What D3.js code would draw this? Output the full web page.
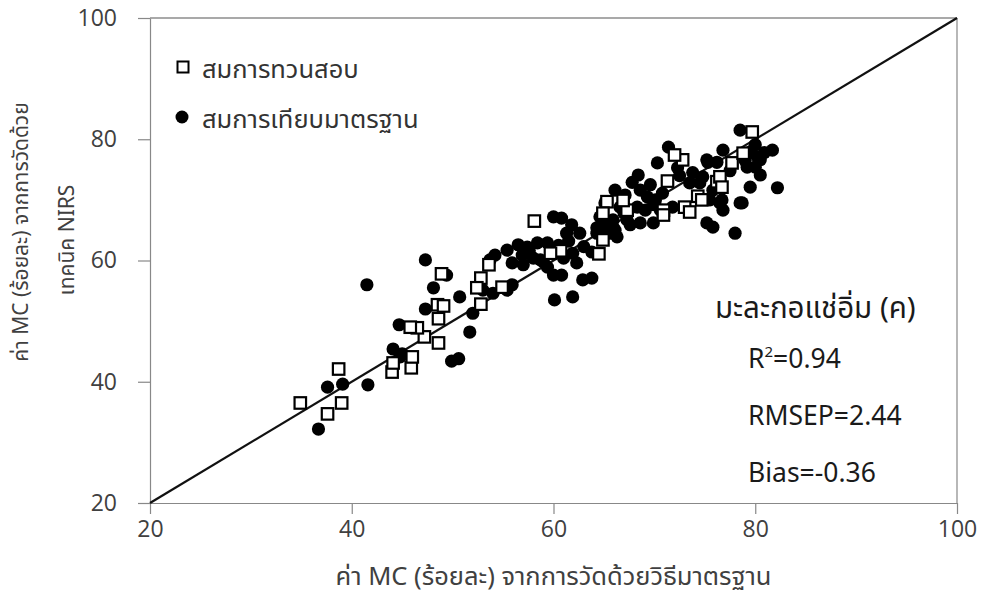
<!DOCTYPE html>
<html>
<head>
<meta charset="utf-8">
<script src="https://cdn.jsdelivr.net/npm/d3@7"></script>
<style>
  body { margin: 0; background: #fff; }
  svg { display: block; font-family: "Noto Sans", "Noto Sans Thai", "DejaVu Sans", sans-serif; }
</style>
</head>
<body>
<script>
// validation set (hollow squares)
const testX = [34.9, 37.6, 38.7, 39.0, 44.0, 44.1, 45.9, 46.0, 48.6, 47.2, 46.5, 45.8, 48.6, 48.5, 49.1, 48.9,
  58.1, 65.3, 64.9, 64.9, 64.5, 53.6, 52.8, 52.4, 52.8, 54.9, 60.7, 59.7, 79.7, 72.8, 72.0, 77.7,
  71.3, 73.0, 73.5, 74.3, 67.3, 70.9, 70.9, 76.2, 76.5, 78.8, 76.7, 74.7, 66.9];
const testY = [36.5, 34.7, 42.1, 36.5, 41.6, 43.1, 42.3, 44.1, 46.4, 47.4, 48.9, 49.0, 50.4, 52.7, 52.5, 57.8,
  66.5, 69.7, 67.8, 63.4, 61.1, 59.3, 57.1, 55.5, 52.8, 55.6, 61.6, 61.2, 81.2, 76.6, 77.4, 76.1,
  73.1, 68.8, 68.0, 70.6, 68.3, 68.3, 67.5, 73.0, 73.8, 77.7, 72.1, 70.0, 69.9];

// calibration set (filled circles)
const calX = [36.7, 37.6, 39.1, 41.6, 41.5, 47.3, 49.4, 48.1, 47.3, 44.7, 44.1, 44.8, 49.9, 50.6, 50.7, 45.0,
  60.0, 60.8, 61.8, 62.6, 61.3, 64.3, 65.3, 66.1, 54.2, 55.4, 56.5, 57.4, 58.4, 59.4, 56.9, 58.0,
  55.9, 58.7, 59.4, 60.0, 60.8, 61.9, 62.3, 63.8, 62.9, 63.8, 60.1, 61.9, 53.7, 53.0, 54.0, 55.4,
  55.9, 52.0, 51.7, 57.6, 60.5, 61.5, 63.0, 78.5, 71.4, 70.3, 72.3, 75.2, 76.2, 76.8, 68.4, 67.8,
  69.6, 69.3, 68.3, 70.6, 68.6, 69.9, 66.6, 65.9, 65.6, 73.5, 74.5, 75.5, 76.5, 76.8, 78.5, 75.2,
  75.8, 78.0, 81.7, 82.2, 79.2, 80.5, 79.5, 80.5, 80.0, 65.1, 64.6, 64.8, 80.2, 80.0, 78.7, 76.7,
  74.8, 75.8, 75.3, 67.1, 69.1, 67.6, 70.1, 66.1, 68.6, 70.8, 65.9, 67.3, 66.3, 64.3, 72.5, 73.8,
  77.5, 79.0, 80.9, 79.6, 67.0, 70.0, 71.8, 59.0, 61.0, 57.0];
const calY = [32.2, 39.1, 39.6, 39.5, 56.0, 60.1, 57.6, 55.5, 52.0, 49.4, 45.4, 44.1, 43.4, 43.8, 54.0, 44.6,
  67.2, 67.0, 65.9, 64.5, 64.5, 65.4, 66.2, 65.0, 60.9, 61.7, 62.6, 62.2, 62.9, 62.9, 60.9, 60.4,
  59.6, 60.1, 58.9, 57.6, 57.6, 61.2, 59.6, 61.4, 56.8, 57.1, 53.5, 54.0, 60.1, 55.1, 54.6, 55.1,
  56.0, 51.3, 48.2, 61.6, 62.5, 63.2, 62.3, 81.5, 78.7, 76.1, 75.3, 76.6, 76.2, 78.2, 74.1, 72.9,
  72.5, 70.5, 68.8, 68.3, 66.2, 66.2, 68.8, 66.7, 64.5, 72.8, 72.8, 70.0, 69.5, 68.3, 69.5, 66.2,
  65.5, 64.5, 78.2, 72.0, 75.4, 74.1, 72.1, 76.6, 79.1, 69.5, 67.2, 65.0, 77.1, 75.4, 69.5, 70.0,
  73.8, 71.6, 76.2, 70.8, 68.3, 65.9, 70.0, 71.6, 71.6, 71.1, 65.5, 66.7, 63.9, 64.5, 74.0, 74.5,
  74.8, 76.5, 77.8, 78.0, 67.8, 69.2, 68.8, 59.8, 60.4, 59.3];

const axisTicks = [20, 40, 60, 80, 100];
const legendLabels = ["สมการทวนสอบ", "สมการเทียบมาตรฐาน"];
const statLines = ["มะละกอแช่อิ่ม (ค)", "=0.94", "RMSEP=2.44", "Bias=-0.36"];
const xTitle = "ค่า MC (ร้อยละ) จากการวัดด้วยวิธีมาตรฐาน";
const yTitle = ["ค่า MC (ร้อยละ) จากการวัดด้วย", "เทคนิค NIRS"];

const width = 985, height = 594;
const svg = d3.select("body").append("svg")
    .attr("width", width)
    .attr("height", height);

const x = d3.scaleLinear().domain([20, 100]).range([150, 957]);
const y = d3.scaleLinear().domain([20, 100]).range([503, 18]);

// frame
svg.append("line").attr("x1", x(20)).attr("x2", x(100)).attr("y1", y(100)).attr("y2", y(100))
    .attr("stroke", "#555").attr("stroke-width", 1.2);
svg.append("line").attr("x1", x(100)).attr("x2", x(100)).attr("y1", y(100)).attr("y2", y(20))
    .attr("stroke", "#888").attr("stroke-width", 1.2);

const xAxis = svg.append("g")
    .attr("transform", `translate(0,${y(20)})`)
    .call(d3.axisBottom(x).tickValues(axisTicks).tickSize(11).tickSizeOuter(0).tickPadding(7));
const yAxis = svg.append("g")
    .attr("transform", `translate(${x(20)},0)`)
    .call(d3.axisLeft(y).tickValues(axisTicks).tickSize(12).tickSizeOuter(0).tickPadding(21));

[xAxis, yAxis].forEach(g => {
    g.select(".domain").attr("stroke", "#888").attr("stroke-width", 1.2);
    g.selectAll(".tick line").attr("stroke", "#888").attr("stroke-width", 1.2);
    g.selectAll(".tick text").attr("fill", "#404040").style("font-size", "23px")
        .style("font-family", "'Open Sans', 'Noto Sans', sans-serif");
});

// 1:1 line
svg.append("line")
    .attr("x1", x(20)).attr("y1", y(20))
    .attr("x2", x(100)).attr("y2", y(100))
    .attr("stroke", "#111").attr("stroke-width", 2.2);

// calibration points
svg.append("g").selectAll("circle")
    .data(calX.map((v, i) => ({ x: v, y: calY[i] })))
    .enter().append("circle")
    .attr("cx", d => x(d.x))
    .attr("cy", d => y(d.y))
    .attr("r", 6.6)
    .attr("fill", "#000");

// validation points
const sq = 11.5;
svg.append("g").selectAll("rect")
    .data(testX.map((v, i) => ({ x: v, y: testY[i] })))
    .enter().append("rect")
    .attr("x", d => x(d.x) - sq / 2)
    .attr("y", d => y(d.y) - sq / 2)
    .attr("width", sq).attr("height", sq)
    .attr("fill", "#fff")
    .attr("stroke", "#000")
    .attr("stroke-width", 2.2);

// legend
const legend = svg.append("g").attr("transform", "translate(183,67)");
legend.append("rect").attr("x", -5.5).attr("y", -5.5).attr("width", 11).attr("height", 11)
    .attr("fill", "#fff").attr("stroke", "#000").attr("stroke-width", 2);
legend.append("circle").attr("cx", -1).attr("cy", 50).attr("r", 6.5).attr("fill", "#000");
legend.selectAll("text")
    .data(legendLabels)
    .enter().append("text")
    .attr("x", 19)
    .attr("y", (d, i) => 11 + i * 50)
    .attr("fill", "#333")
    .style("font-size", "25.5px")
    .text(d => d);

// stats annotation
const stats = svg.append("g").attr("fill", "#1a1a1a").style("font-size", "26.5px");
stats.append("text").attr("x", 715).attr("y", 318).style("font-size", "29.5px").text(statLines[0]);
const r2 = stats.append("text").attr("x", 748).attr("y", 368);
r2.append("tspan").text("R");
r2.append("tspan").attr("dy", -11).style("font-size", "15px").text("2");
r2.append("tspan").attr("dy", 11).text(statLines[1]);
stats.append("text").attr("x", 748).attr("y", 425).text(statLines[2]);
stats.append("text").attr("x", 748).attr("y", 482).text(statLines[3]);

// axis titles
svg.append("text")
    .attr("x", x(60)).attr("y", 585)
    .attr("text-anchor", "middle")
    .attr("fill", "#404040")
    .style("font-size", "25.5px")
    .text(xTitle);

svg.append("g")
    .attr("transform", "translate(0,232) rotate(-90)")
    .selectAll("text")
    .data(yTitle)
    .enter().append("text")
    .attr("x", (d, i) => i === 0 ? 0 : -8)
    .attr("y", (d, i) => 28 + i * 46)
    .attr("text-anchor", "middle")
    .attr("fill", "#404040")
    .style("font-size", "21px")
    .text(d => d);
</script>
</body>
</html>
